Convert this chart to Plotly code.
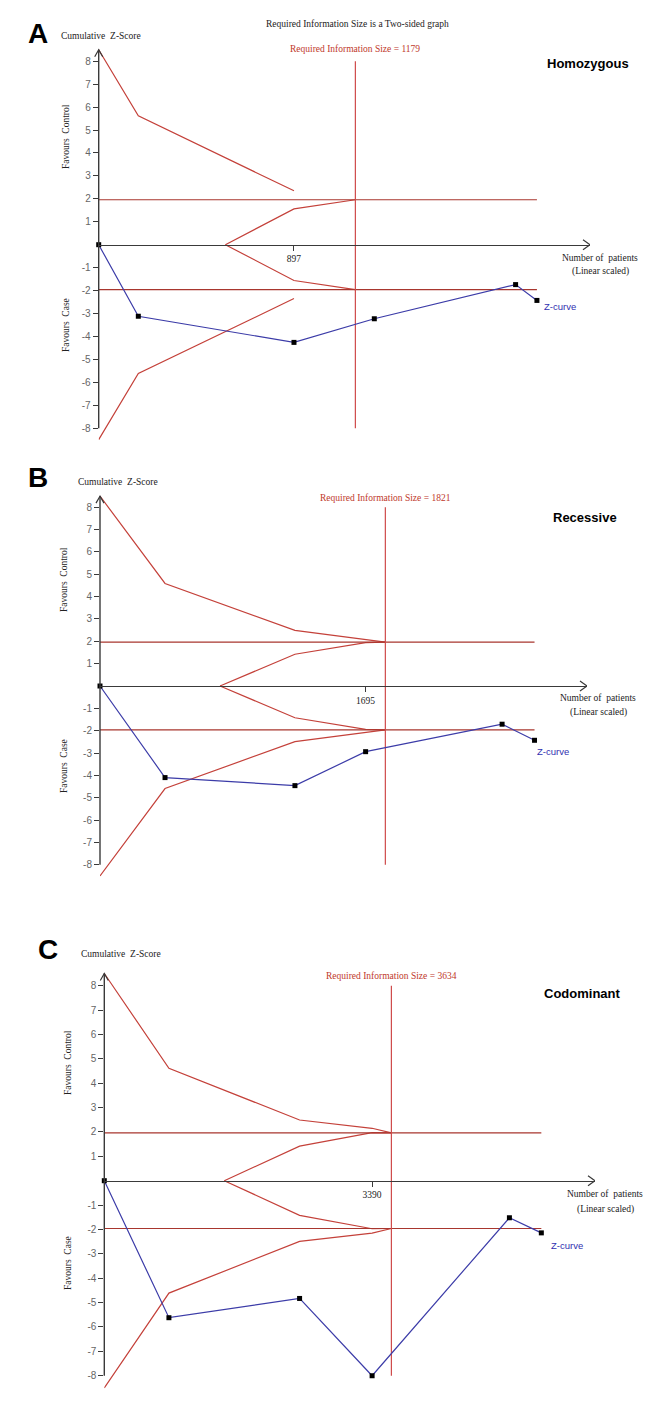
import plotly.graph_objects as go

W, H = 666, 1407

# ---------------- data ----------------
# Panel A - Homozygous
a_zcurve_x = [0, 182, 897, 1266, 1915, 2013]
a_zcurve_z = [0, -3.12, -4.26, -3.23, -1.74, -2.43]
a_bound_x = [0, 182, 897]
a_bound_z = [8.5, 5.62, 2.35]
a_inner_x = [582, 897, 1179]
a_inner_z = [0, 1.56, 1.96]
a_ris = 1179
a_tick = 897

# Panel B - Recessive
b_zcurve_x = [0, 415, 1244, 1695, 2566, 2773]
b_zcurve_z = [0, -4.10, -4.46, -2.94, -1.71, -2.43]
b_bound_x = [0, 415, 1244, 1695, 1821]
b_bound_z = [8.5, 4.59, 2.49, 2.10, 1.96]
b_inner_x = [766, 1244, 1695, 1821]
b_inner_z = [0, 1.42, 1.94, 1.96]
b_ris = 1821
b_tick = 1695

# Panel C - Codominant
c_zcurve_x = [0, 818, 2472, 3390, 5128, 5532]
c_zcurve_z = [0, -5.62, -4.83, -8.0, -1.52, -2.14]
c_bound_x = [0, 818, 2472, 3390, 3634]
c_bound_z = [8.5, 4.61, 2.49, 2.15, 1.96]
c_inner_x = [1519, 2472, 3390, 3634]
c_inner_z = [0, 1.42, 1.97, 1.96]
c_ris = 3634
c_tick = 3390

z_crit = 1.96
y_tick_vals = [8, 7, 6, 5, 4, 3, 2, 1, -1, -2, -3, -4, -5, -6, -7, -8]
y_tick_text = ["8", "7", "6", "5", "4", "3", "2", "1", "-1", "-2", "-3", "-4", "-5", "-6", "-7", "-8"]

panels = [
    dict(letter="A", name="Homozygous", zx=a_zcurve_x, zz=a_zcurve_z, bx=a_bound_x, bz=a_bound_z,
         ix=a_inner_x, iz=a_inner_z, ris=a_ris, tick=a_tick,
         x0=98.7, tip=590, ppx=0.2177, z0=244.7, pz=22.93,
         letter_pos=(38, 33), cum_pos=(100.5, 36), name_pos=(588, 63), fav_x=66,
         fc_y=137, fcase_y=325, nop_pos=(600, 257.7), lin_y=271.7, zlab=(5, -6), risshift=5),
    dict(letter="B", name="Recessive", zx=b_zcurve_x, zz=b_zcurve_z, bx=b_bound_x, bz=b_bound_z,
         ix=b_inner_x, iz=b_inner_z, ris=b_ris, tick=b_tick,
         x0=100, tip=587, ppx=0.1567, z0=686, pz=22.34,
         letter_pos=(38, 477), cum_pos=(118, 482), name_pos=(585, 517), fav_x=64,
         fc_y=580, fcase_y=766, nop_pos=(598, 698.3), lin_y=712.3, zlab=(0, -11), risshift=2),
    dict(letter="C", name="Codominant", zx=c_zcurve_x, zz=c_zcurve_z, bx=c_bound_x, bz=c_bound_z,
         ix=c_inner_x, iz=c_inner_z, ris=c_ris, tick=c_tick,
         x0=104.3, tip=595, ppx=0.079, z0=1180.7, pz=24.38,
         letter_pos=(48, 950), cum_pos=(120.5, 954), name_pos=(582, 993), fav_x=68,
         fc_y=1063, fcase_y=1263, nop_pos=(605, 1194), lin_y=1209, zlab=(8, -13), risshift=3),
]

SERIF = "Liberation Serif"
SANS = "Liberation Sans"
RED = "#c4413a"
HRED = "#a8362e"
RISRED = "#cf4a4a"
BLUE = "#3c3ca8"
AXC = "#3a3a3a"

def px(x):
    return x / W

def py(y):
    return 1 - y / H

fig = go.Figure()
layout = dict(width=W, height=H, margin=dict(l=0, r=0, t=0, b=0),
              paper_bgcolor="white", plot_bgcolor="white", showlegend=False)
shapes = []
annotations = []

ZR = 8.75

for i, p in enumerate(panels):
    n = "" if i == 0 else str(i + 1)
    xa, ya = "x" + n, "y" + n
    xmax = (p["tip"] - p["x0"]) / p["ppx"]
    top_px = p["z0"] - ZR * p["pz"]
    bot_px = p["z0"] + ZR * p["pz"]
    layout["xaxis" + n] = dict(
        domain=[px(p["x0"]), px(p["tip"])], range=[0, xmax], anchor="free",
        position=py(p["z0"]), showgrid=False, zeroline=False, showline=True,
        linecolor=AXC, linewidth=1.3, ticks="outside", ticklen=5, tickcolor=AXC,
        tickvals=[p["tick"]], ticktext=[str(p["tick"])],
        tickfont=dict(family=SERIF, size=9.5, color="#222"), fixedrange=True)
    layout["yaxis" + n] = dict(
        domain=[py(bot_px), py(top_px)], range=[-ZR, ZR], anchor=xa,
        showgrid=False, zeroline=False, showline=False, ticks="outside",
        ticklen=5, tickcolor=AXC, tickwidth=1.2, tickvals=y_tick_vals, ticktext=y_tick_text,
        tickfont=dict(family=SANS, size=10, color="#666"), fixedrange=True)

    last_x = p["zx"][-1]
    # boundaries (symmetric two-sided)
    for sgn in (1, -1):
        fig.add_trace(go.Scatter(x=p["bx"], y=[sgn * v for v in p["bz"]], mode="lines",
                                 line=dict(color=RED, width=1.2), xaxis=xa, yaxis=ya,
                                 hoverinfo="skip"))
        fig.add_trace(go.Scatter(x=p["ix"], y=[sgn * v for v in p["iz"]], mode="lines",
                                 line=dict(color=RED, width=1.2), xaxis=xa, yaxis=ya,
                                 hoverinfo="skip"))
        fig.add_trace(go.Scatter(x=[0, last_x], y=[sgn * z_crit, sgn * z_crit], mode="lines",
                                 line=dict(color=HRED, width=1.2), xaxis=xa, yaxis=ya,
                                 hoverinfo="skip"))
    # required information size line
    fig.add_trace(go.Scatter(x=[p["ris"], p["ris"]], y=[-8, 8], mode="lines",
                             line=dict(color=RISRED, width=1.2), xaxis=xa, yaxis=ya,
                             hoverinfo="skip"))
    # z-curve
    fig.add_trace(go.Scatter(x=p["zx"], y=p["zz"], mode="lines+markers",
                             line=dict(color=BLUE, width=1.2),
                             marker=dict(symbol="square", size=5, color="black"),
                             xaxis=xa, yaxis=ya, cliponaxis=False, hoverinfo="skip"))

    # y axis line and arrow
    shapes.append(dict(type="line", xref=xa + " domain", yref=ya, x0=0, x1=0, y0=-8, y1=8.5,
                       line=dict(color=AXC, width=1.4)))
    shapes.append(dict(type="path", xref=xa + " domain", yref=ya, xsizemode="pixel",
                       ysizemode="pixel", xanchor=0, yanchor=8.5,
                       path="M -4,-7 L 0,0 L 4,-7", line=dict(color=AXC, width=1.2)))
    # x axis arrow
    shapes.append(dict(type="path", xref=xa, yref=ya, xsizemode="pixel", ysizemode="pixel",
                       xanchor=xmax, yanchor=0, path="M -7,-5 L 0,0 L -7,5",
                       line=dict(color=AXC, width=1.2)))

    # texts
    annotations.append(dict(text="<b>%s</b>" % p["letter"], xref="paper", yref="paper",
                            x=px(p["letter_pos"][0]), y=py(p["letter_pos"][1]),
                            showarrow=False, font=dict(family=SANS, size=28, color="black"),
                            xanchor="center", yanchor="middle"))
    annotations.append(dict(text="Cumulative  Z-Score", xref="paper", yref="paper",
                            x=px(p["cum_pos"][0]), y=py(p["cum_pos"][1]), showarrow=False,
                            font=dict(family=SERIF, size=9.5, color="#222"),
                            xanchor="center", yanchor="middle"))
    annotations.append(dict(text="<b>%s</b>" % p["name"], xref="paper", yref="paper",
                            x=px(p["name_pos"][0]), y=py(p["name_pos"][1]), showarrow=False,
                            font=dict(family=SANS, size=13, color="black"),
                            xanchor="center", yanchor="middle"))
    annotations.append(dict(text="Required Information Size = %d" % p["ris"], xref=xa, yref=ya,
                            x=p["ris"], y=8, yshift=p["risshift"], showarrow=False,
                            font=dict(family=SERIF, size=9.5, color="#c0392b"),
                            xanchor="center", yanchor="bottom"))
    annotations.append(dict(text="Favours  Control", xref="paper", yref="paper",
                            x=px(p["fav_x"]), y=py(p["fc_y"]), showarrow=False, textangle=-90,
                            font=dict(family=SERIF, size=9.5, color="#222"),
                            xanchor="center", yanchor="middle"))
    annotations.append(dict(text="Favours  Case", xref="paper", yref="paper",
                            x=px(p["fav_x"]), y=py(p["fcase_y"]), showarrow=False, textangle=-90,
                            font=dict(family=SERIF, size=9.5, color="#222"),
                            xanchor="center", yanchor="middle"))
    annotations.append(dict(text="Number of  patients", xref="paper", yref="paper",
                            x=px(p["nop_pos"][0]), y=py(p["nop_pos"][1]), showarrow=False,
                            font=dict(family=SERIF, size=9.5, color="#222"),
                            xanchor="center", yanchor="middle"))
    annotations.append(dict(text="(Linear scaled)", xref="paper", yref="paper",
                            x=px(p["nop_pos"][0]), y=py(p["lin_y"]), showarrow=False,
                            font=dict(family=SERIF, size=9.5, color="#222"),
                            xanchor="center", yanchor="middle"))
    annotations.append(dict(text="Z-curve", xref=xa, yref=ya, x=p["zx"][-1], y=p["zz"][-1],
                            xshift=p["zlab"][0], yshift=p["zlab"][1], showarrow=False,
                            font=dict(family=SANS, size=9.5, color="#3030b0"),
                            xanchor="left", yanchor="middle"))

annotations.append(dict(text="Required Information Size is a Two-sided graph", xref="paper",
                        yref="paper", x=px(357.5), y=py(24), showarrow=False,
                        font=dict(family=SERIF, size=9.5, color="#222"),
                        xanchor="center", yanchor="middle"))

layout["shapes"] = shapes
layout["annotations"] = annotations
fig.update_layout(**layout)
fig.write_html("out.html", config={"displayModeBar": False},
               post_script="document.body.style.margin='0';document.body.style.overflow='hidden';")
